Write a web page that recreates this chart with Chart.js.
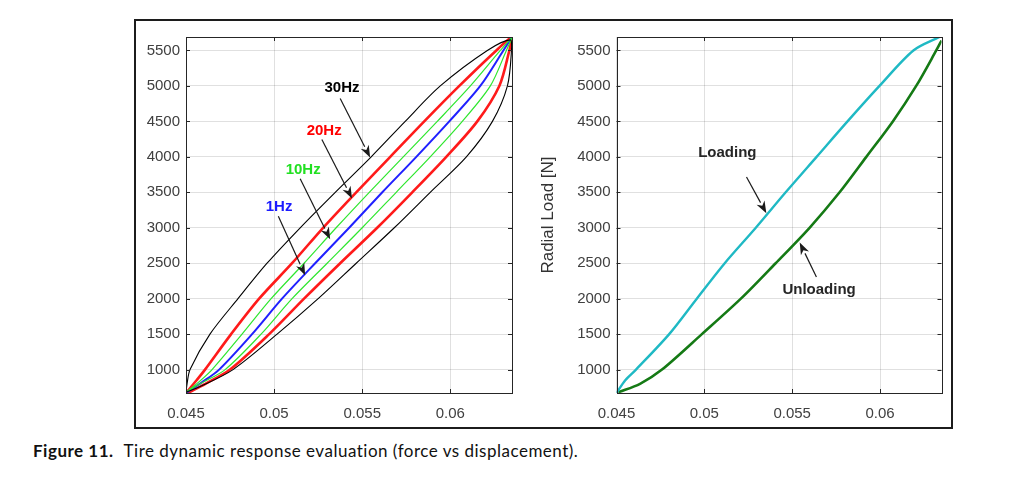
<!DOCTYPE html>
<html>
<head>
<meta charset="utf-8">
<script src="https://cdn.jsdelivr.net/npm/chart.js@4.4.1/dist/chart.umd.min.js"></script>
<style>
body{margin:0;background:#fff;width:1024px;height:479px;position:relative;overflow:hidden;}
#frame{position:absolute;left:134px;top:19px;width:819px;height:410px;border:2px solid #1c1c1c;box-sizing:border-box;}
canvas{position:absolute;top:22px;}
#left{left:136px;}
#right{left:530px;}
#caption{position:absolute;left:33px;top:440px;font-family:Lato,"Open Sans",sans-serif;font-size:17px;letter-spacing:0.5px;color:#111;white-space:nowrap;}
#caption b{margin-right:10px}
</style>
</head>
<body>
<div id="frame"></div>
<canvas id="left" width="385" height="405"></canvas>
<canvas id="right" width="420" height="405"></canvas>
<div id="caption"><b>Figure 11.</b>Tire dynamic response evaluation (force vs displacement).</div>
<script>
// axis ticks and ranges
const xTicks = [0.045, 0.05, 0.055, 0.06];
const yTicks = [1000, 1500, 2000, 2500, 3000, 3500, 4000, 4500, 5000, 5500];
const xMin = 0.045, xMax = 0.0635;
const yMin = 670, yMax = 5690;

// left plot: hysteresis loops [displacement, load]
const loop30Hz = [
  [0.04500,680],[0.04506,800],[0.04523,1000],[0.04636,1500],[0.04795,2000],[0.04960,2500],
  [0.05148,3000],[0.05347,3500],[0.05551,4000],[0.05744,4500],[0.05943,5000],[0.06210,5500],
  [0.06341,5650],[0.06347,5500],[0.06324,5000],[0.06239,4500],[0.06091,4000],[0.05886,3500],
  [0.05682,3000],[0.05466,2500],[0.05250,2000],[0.05017,1500],[0.04767,1000],[0.04580,760],[0.04500,680]
];
const loop20Hz = [
  [0.04500,670],[0.04560,850],[0.04608,1000],[0.04756,1500],[0.04915,2000],[0.05102,2500],
  [0.05278,3000],[0.05466,3500],[0.05659,4000],[0.05852,4500],[0.06051,5000],[0.06261,5500],
  [0.06352,5690],[0.06335,5500],[0.06278,5000],[0.06153,4500],[0.05977,4000],[0.05784,3500],
  [0.05585,3000],[0.05375,2500],[0.05170,2000],[0.04972,1500],[0.04750,1000],[0.04610,800],[0.04511,670]
];
const loop10Hz = [
  [0.04500,680],[0.04575,830],[0.04648,1000],[0.04818,1500],[0.04983,2000],[0.05170,2500],
  [0.05352,3000],[0.05540,3500],[0.05733,4000],[0.05926,4500],[0.06114,5000],[0.06284,5500],
  [0.06347,5670],[0.06318,5500],[0.06227,5000],[0.06068,4500],[0.05886,4000],[0.05693,3500],
  [0.05500,3000],[0.05301,2500],[0.05102,2000],[0.04926,1500],[0.04722,1000],[0.04580,800],[0.04506,690]
];
const loop1Hz = [
  [0.04506,680],[0.04590,820],[0.04688,1000],[0.04875,1500],[0.05045,2000],[0.05233,2500],
  [0.05426,3000],[0.05614,3500],[0.05807,4000],[0.05994,4500],[0.06170,5000],[0.06301,5500],[0.06347,5680]
];

// right plot: 1Hz loading / unloading branches
const loading = [
  [0.04500,670],[0.04550,850],[0.04611,1000],[0.04800,1500],[0.04957,2000],
  [0.05116,2500],[0.05293,3000],[0.05463,3500],[0.05639,4000],[0.05815,4500],[0.05997,5000],
  [0.06190,5500],[0.06338,5690]
];
const unloading = [
  [0.06350,5640],[0.06320,5500],[0.06206,5000],[0.06073,4500],[0.05922,4000],[0.05770,3500],
  [0.05599,3000],[0.05406,2500],[0.05208,2000],[0.04986,1500],[0.04759,1000],[0.04634,800],[0.04510,680]
];

// annotations: text position, arrow start, arrow tip (data units)
const leftNotes = [
  {text:'30Hz', color:'#000000', at:[0.05385,4972], from:[0.05375,4823], to:[0.05545,3992]},
  {text:'20Hz', color:'#ff0000', at:[0.05284,4370], from:[0.05271,4245], to:[0.05442,3414]},
  {text:'10Hz', color:'#22e022', at:[0.05165,3816], from:[0.05148,3691], to:[0.05318,2837]},
  {text:'1Hz',  color:'#1c1cff', at:[0.05028,3289], from:[0.05024,3161], to:[0.05176,2330]}
];
const rightNotes = [
  {text:'Loading',   color:'#262626', at:[0.05131,4061], from:[0.05240,3715], to:[0.05353,3206]},
  {text:'Unloading', color:'#262626', at:[0.05653,2122], from:[0.05638,2306], to:[0.05543,2791]}
];

function pts(a){ return a.map(p => ({x:p[0], y:p[1]})); }

Chart.defaults.font.family = '"Liberation Sans", Arial, sans-serif';
Chart.defaults.font.size = 15;
Chart.defaults.color = '#404040';

// matlab style box with inward ticks
const boxPlugin = {
  id: 'box',
  afterDatasetsDraw(chart){
    const {ctx, chartArea:a, scales} = chart;
    ctx.save();
    ctx.strokeStyle = '#262626';
    ctx.lineWidth = 1;
    ctx.beginPath();
    xTicks.forEach(v => {
      const px = Math.round(scales.x.getPixelForValue(v)) + 0.5;
      ctx.moveTo(px, a.bottom); ctx.lineTo(px, a.bottom - 4);
      ctx.moveTo(px, a.top); ctx.lineTo(px, a.top + 4);
    });
    yTicks.forEach(v => {
      const py = Math.round(scales.y.getPixelForValue(v)) + 0.5;
      ctx.moveTo(a.left, py); ctx.lineTo(a.left + 4, py);
      ctx.moveTo(a.right, py); ctx.lineTo(a.right - 4, py);
    });
    ctx.stroke();
    ctx.strokeRect(Math.round(a.left)+0.5, Math.round(a.top)+0.5, Math.round(a.right-a.left), Math.round(a.bottom-a.top));
    ctx.restore();
  }
};

const notesPlugin = {
  id: 'notes',
  afterDatasetsDraw(chart, args, opts){
    const {ctx, scales} = chart;
    const X = v => scales.x.getPixelForValue(v), Y = v => scales.y.getPixelForValue(v);
    ctx.save();
    (opts.items || []).forEach(n => {
      const x1 = X(n.from[0]), y1 = Y(n.from[1]), x2 = X(n.to[0]), y2 = Y(n.to[1]);
      const ang = Math.atan2(y2 - y1, x2 - x1);
      const hl = 12, hw = 4.5;
      ctx.strokeStyle = '#1a1a1a';
      ctx.fillStyle = '#1a1a1a';
      ctx.lineWidth = 1.2;
      ctx.beginPath();
      ctx.moveTo(x1, y1);
      ctx.lineTo(x2 - Math.cos(ang)*hl, y2 - Math.sin(ang)*hl);
      ctx.stroke();
      ctx.beginPath();
      ctx.moveTo(x2, y2);
      ctx.lineTo(x2 - Math.cos(ang)*hl - Math.sin(ang)*hw, y2 - Math.sin(ang)*hl + Math.cos(ang)*hw);
      ctx.lineTo(x2 - Math.cos(ang)*hl*0.7, y2 - Math.sin(ang)*hl*0.7);
      ctx.lineTo(x2 - Math.cos(ang)*hl + Math.sin(ang)*hw, y2 - Math.sin(ang)*hl - Math.cos(ang)*hw);
      ctx.closePath();
      ctx.fill();
      ctx.font = 'bold 15px "Liberation Sans", Arial, sans-serif';
      ctx.fillStyle = n.color;
      ctx.textAlign = 'center';
      ctx.textBaseline = 'middle';
      ctx.fillText(n.text, X(n.at[0]), Y(n.at[1]));
    });
    ctx.restore();
  }
};

function makeChart(id, datasets, notes, yWidth, padRight, yTitle){
  return new Chart(document.getElementById(id), {
    type: 'scatter',
    data: { datasets: datasets },
    options: {
      responsive: false,
      animation: false,
      layout: { padding: { top: 9, right: padRight, bottom: 0, left: 0 } },
      plugins: { legend: { display: false }, tooltip: { enabled: false }, notes: { items: notes } },
      scales: {
        x: {
          type: 'linear', min: xMin, max: xMax,
          afterBuildTicks: s => { s.ticks = xTicks.map(v => ({value: v})); },
          afterFit: s => { s.height = 34; },
          grid: { color: 'rgba(0,0,0,0.12)', drawTicks: false },
          border: { display: false },
          ticks: { padding: 12, callback: v => String(v) }
        },
        y: {
          type: 'linear', min: yMin, max: yMax,
          afterBuildTicks: s => { s.ticks = yTicks.map(v => ({value: v})); },
          afterFit: s => { s.width = yWidth; },
          grid: { color: 'rgba(0,0,0,0.12)', drawTicks: false },
          border: { display: false },
          ticks: { padding: 6, callback: v => String(v) },
          title: { display: !!yTitle, text: yTitle || '', color: '#333333',
                   font: { size: 17 }, padding: { top: 8, bottom: 0 } }
        }
      }
    },
    plugins: [boxPlugin, notesPlugin]
  });
}

const lineDs = (data, color, width) => ({
  data: pts(data), showLine: true, borderColor: color, backgroundColor: color,
  borderWidth: width, pointRadius: 0, tension: 0.3, fill: false
});

makeChart('left', [
  lineDs(loop30Hz, '#000000', 1.1),
  lineDs(loop10Hz, '#2ee62e', 1.2),
  lineDs(loop1Hz, '#2020ff', 2),
  lineDs(loop20Hz, '#ff1a1a', 2.6)
], leftNotes, 50, 9, null);

makeChart('right', [
  lineDs(loading, '#1fb9c4', 2.4),
  lineDs(unloading, '#157a15', 2.6)
], rightNotes, 86.5, 8.5, 'Radial Load [N]');
</script>
</body>
</html>
